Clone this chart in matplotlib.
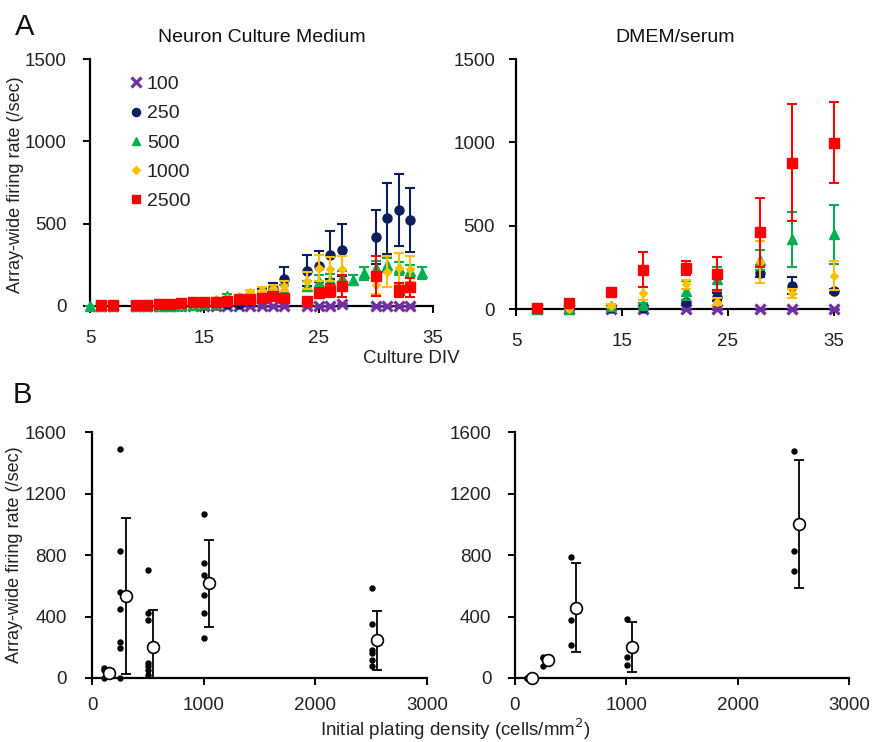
import matplotlib
matplotlib.use("Agg")
import matplotlib.pyplot as plt
import numpy as np
from matplotlib.lines import Line2D

plt.rcParams['font.family'] = ['Liberation Sans', 'DejaVu Sans']

# ---------------- Panel A data ----------------
series_labels = ['100', '250', '500', '1000', '2500']
series_colors = ['#7030A0', '#0B1F5C', '#00B050', '#FFC000', '#FF0000']

# Neuron Culture Medium
ncm_days = [6, 7, 9, 10, 11, 12, 13, 14, 15, 16, 17, 18, 19, 20, 21, 22, 24, 25, 26, 27, 30, 31, 32, 33]
ncm_100 = [0, 0, 0, 0, 0, 0, 0, 0, 0, 0, 0, 0, 0, 0, 0, 0, 0, 0, 0, 12, 0, 0, 0, 0]
ncm_100_err = [0] * 24
ncm_250 = [0, 0, 0, 0, 0, 2, 3, 5, 6, 8, 10, 15, 30, 85, 107, 162, 215, 240, 308, 340, 418, 534, 584, 523]
ncm_250_err = [0, 0, 0, 0, 0, 1, 2, 3, 3, 4, 5, 6, 10, 17, 35, 73, 95, 95, 145, 160, 162, 216, 217, 193]
ncm_500_days = [5, 6, 7, 9, 10, 11, 12, 13, 14, 15, 16, 17, 18, 19, 20, 21, 22, 24, 25, 26, 27, 28, 29, 30, 31, 32, 33, 34]
ncm_500 = [0, 0, 0, 0, 0, 0, 2, 4, 6, 10, 15, 60, 45, 60, 70, 80, 100, 120, 148, 158, 170, 158, 198, 229, 249, 230, 210, 198]
ncm_500_err = [0, 0, 0, 0, 0, 0, 1, 2, 3, 4, 6, 15, 12, 15, 18, 20, 25, 30, 40, 35, 40, 33, 38, 45, 45, 40, 40, 36]
ncm_1000 = [0, 0, 0, 2, 3, 5, 8, 12, 28, 43, 50, 61, 83, 100, 110, 121, 154, 229, 225, 225, 128, 208, 229, 225]
ncm_1000_err = [0, 0, 0, 1, 2, 2, 3, 4, 6, 6, 7, 8, 12, 15, 20, 30, 50, 78, 72, 80, 55, 94, 95, 78]
ncm_2500_days = [6, 7, 9, 10, 11, 12, 13, 14, 15, 16, 17, 18, 19, 20, 21, 22, 24, 25, 26, 27, 30, 32, 33]
ncm_2500 = [5, 5, 5, 8, 10, 12, 16, 22, 25, 25, 30, 40, 45, 50, 58, 48, 32, 77, 93, 121, 182, 97, 113]
ncm_2500_err = [1, 1, 1, 2, 3, 3, 4, 4, 4, 4, 5, 6, 6, 8, 10, 10, 8, 30, 40, 65, 120, 45, 60]

# DMEM/serum
dm_days = [7, 10, 14, 17, 21, 24, 28, 31, 35]
dm_100 = [0, 0, 0, 0, 0, 0, 0, 0, 0]
dm_100_err = [0, 0, 0, 0, 0, 0, 0, 0, 0]
dm_250 = [0, 0, 5, 8, 44, 74, 214, 140, 108]
dm_250_err = [0, 0, 3, 5, 12, 24, 20, 50, 10]
dm_500 = [0, 0, 16, 22, 110, 180, 294, 418, 448]
dm_500_err = [0, 0, 10, 12, 58, 70, 60, 165, 175]
dm_1000 = [0, 0, 20, 94, 148, 44, 284, 94, 200]
dm_1000_err = [0, 0, 8, 40, 28, 20, 125, 28, 88]
dm_2500 = [6, 36, 100, 236, 248, 212, 460, 878, 998]
dm_2500_err = [5, 10, 15, 104, 42, 99, 207, 350, 243]

# ---------------- Panel B data ----------------
densities = [100, 250, 500, 1000, 2500]
ncm_pts = [[65, 50, 0],
           [1487, 828, 562, 448, 231, 195, 0],
           [703, 426, 378, 97, 76, 50, 22],
           [1066, 746, 670, 540, 422, 259],
           [588, 350, 184, 162, 119, 76]]
ncm_mean = [30, 534, 201, 616, 244]
ncm_sd = [28, 505, 242, 283, 192]

dm_pts = [[0, 0, 0],
          [136, 130, 76],
          [785, 374, 216],
          [383, 134, 86],
          [1474, 826, 696]]
dm_mean = [0, 115, 458, 201, 999]
dm_sd = [0, 27, 290, 160, 416]

# ---------------- Figure ----------------
W, H = 873, 742
fig = plt.figure(figsize=(W / 100, H / 100), dpi=100)


def ax_px(l, r, b, t):
    return fig.add_axes([l / W, 1 - b / H, (r - l) / W, (b - t) / H])


axA1 = ax_px(90, 433, 306, 59)
axA2 = ax_px(516, 834, 309, 59)
axB1 = ax_px(92, 427, 678, 432)
axB2 = ax_px(515, 849, 678, 432)

TICK_FS = 13.5
TXT = '#222222'
markers = [dict(marker='x', ms=6.5, mew=2.3),
           dict(marker='o', ms=6.5),
           dict(marker='^', ms=6.5),
           dict(marker='D', ms=4.5),
           dict(marker='s', ms=7)]


def style_ax(ax, ypad, xpad):
    for s in ['top', 'right']:
        ax.spines[s].set_visible(False)
    for s in ['left', 'bottom']:
        ax.spines[s].set_linewidth(1.6)
        ax.spines[s].set_color('black')
    ax.tick_params(axis='both', labelsize=TICK_FS, width=1.4, length=5, direction='out',
                   colors='black', labelcolor=TXT)
    ax.tick_params(axis='y', pad=ypad)
    ax.tick_params(axis='x', pad=xpad)
    ax.set_facecolor('none')


def plot_series(ax, days_list, vals_list, errs_list, labels):
    for i in range(5):
        c = series_colors[i]
        eb = ax.errorbar(days_list[i], vals_list[i], yerr=errs_list[i], color=c, ecolor=c,
                         elinewidth=1.5, capsize=3.5, capthick=1.5, linestyle='none',
                         clip_on=False, zorder=3 + i, label=labels[i], **markers[i])
        for art in eb.get_children():
            art.set_clip_on(False)


plot_series(axA1,
            [ncm_days, ncm_days, ncm_500_days, ncm_days, ncm_2500_days],
            [ncm_100, ncm_250, ncm_500, ncm_1000, ncm_2500],
            [ncm_100_err, ncm_250_err, ncm_500_err, ncm_1000_err, ncm_2500_err],
            series_labels)
plot_series(axA2, [dm_days] * 5,
            [dm_100, dm_250, dm_500, dm_1000, dm_2500],
            [dm_100_err, dm_250_err, dm_500_err, dm_1000_err, dm_2500_err],
            series_labels)

for ax, yp in ((axA1, 12), (axA2, 10)):
    ax.set_xlim(5, 35)
    ax.set_ylim(0, 1500)
    ax.set_xticks([5, 15, 25, 35])
    ax.set_yticks([0, 500, 1000, 1500])
    style_ax(ax, yp, 12)

# legend (markers only)
leg_handles = [Line2D([], [], color=series_colors[i], linestyle='none', **markers[i]) for i in range(5)]
for hh in leg_handles:
    if hh.get_marker() in ('o', '^', 's'):
        hh.set_markersize(hh.get_markersize() * 0.9)
axA1.legend(leg_handles, series_labels, loc='upper left', bbox_to_anchor=(0.095, 0.965),
            frameon=False, fontsize=14, handlelength=0.6, handletextpad=0.25,
            labelspacing=0.6, borderaxespad=0.0, labelcolor=TXT)

axA1.set_title('Neuron Culture Medium', fontsize=14, pad=12, color='#111111')
axA2.set_title('DMEM/serum', fontsize=14, pad=12, color='#111111')


def plot_density(ax, pts, means, sds, ypad):
    for d, p in zip(densities, pts):
        ax.plot([d + 5] * len(p), p, linestyle='none', marker='o', ms=3.6, color='black',
                clip_on=False, zorder=3)
    mx = [d + 50 for d in densities]
    ax.errorbar(mx, means, yerr=sds, fmt='none', ecolor='black', elinewidth=1.3,
                capsize=3.5, capthick=1.3, zorder=4)
    ax.plot(mx, means, linestyle='none', marker='o', ms=8.5, mfc='white', mec='black',
            mew=1.2, zorder=5, clip_on=False)
    ax.set_xlim(0, 3000)
    ax.set_ylim(0, 1600)
    ax.set_xticks([0, 1000, 2000, 3000])
    ax.set_yticks([0, 400, 800, 1200, 1600])
    style_ax(ax, ypad, 9)


plot_density(axB1, ncm_pts, ncm_mean, ncm_sd, 13)
plot_density(axB2, dm_pts, dm_mean, dm_sd, 12)

# labels
fig.text(16 / W, 1 - 185 / H, 'Array-wide firing rate (/sec)', rotation=90, ha='center',
         va='center', fontsize=13, color=TXT)
fig.text(15 / W, 1 - 555 / H, 'Array-wide firing rate (/sec)', rotation=90, ha='center',
         va='center', fontsize=13, color=TXT)
fig.text(411 / W, 1 - 358 / H, 'Culture DIV', ha='center', va='center', fontsize=13.5,
         color=TXT)
fig.text(455 / W, 1 - 729 / H, 'Initial plating density (cells/mm$^{2}$)', ha='center',
         va='center', fontsize=13.5, color=TXT)
fig.text(25 / W, 1 - 27 / H, 'A', ha='center', va='center', fontsize=21, color='#111111')
fig.text(22 / W, 1 - 395 / H, 'B', ha='center', va='center', fontsize=21, color='#111111')

fig.savefig('out.png', dpi=100, facecolor='white')
